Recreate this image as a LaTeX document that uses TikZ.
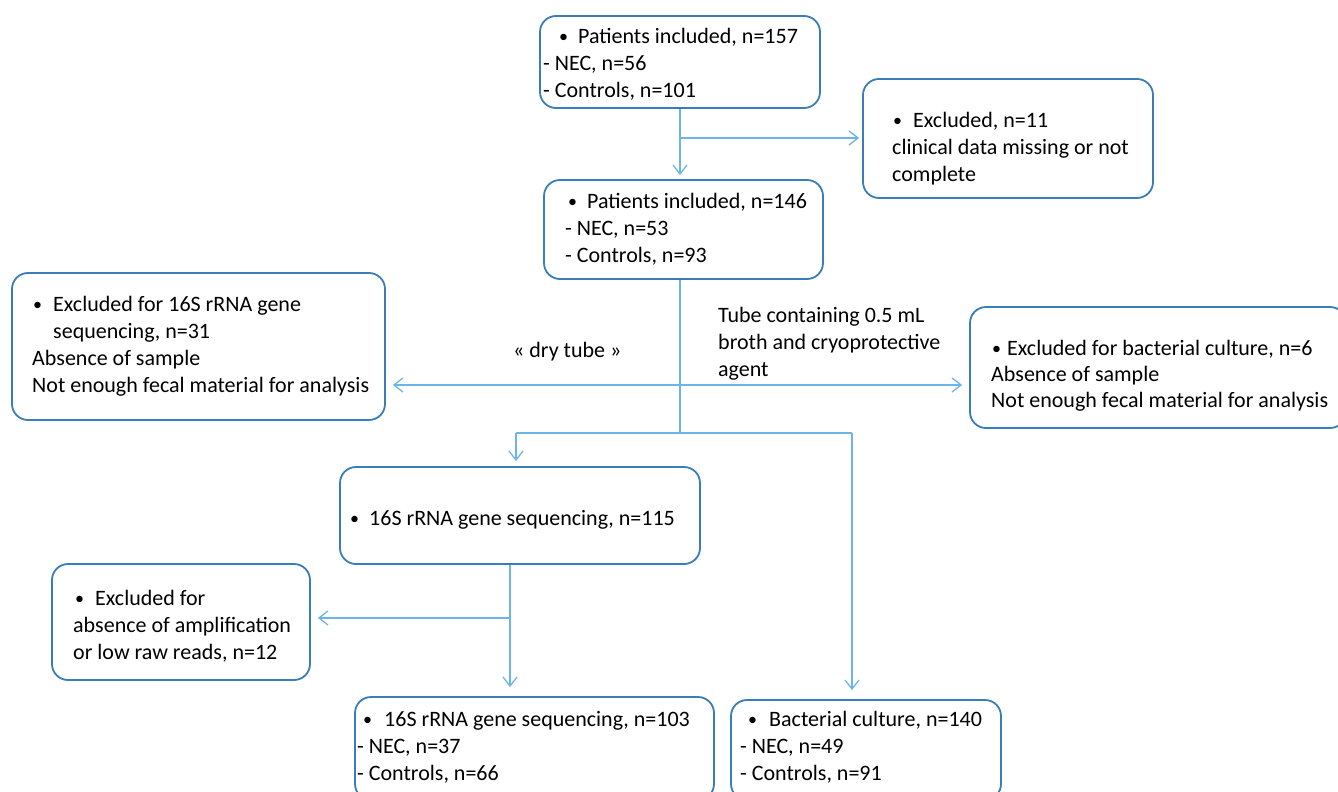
\documentclass[tikz,border=0pt]{standalone}
\usepackage{fontspec}
\setmainfont{Carlito}
\usetikzlibrary{arrows.meta}
\definecolor{boxblue}{HTML}{3A7DB8}
\definecolor{arrowblue}{HTML}{6DB5E6}
\newcommand{\bl}[2]{\hspace*{#1pt}\makebox[#2pt][l]{\raisebox{0.5pt}{\fontsize{18}{18}\selectfont •}}}
\begin{document}
\begin{tikzpicture}[x=1pt,y=-1pt,
  box/.style={draw=boxblue, line width=1.8pt, rounded corners=16pt, inner sep=0pt, rectangle},
  txt/.style={anchor=north west, inner sep=0pt, align=left, font=\fontsize{22}{27}\selectfont},
  wire/.style={draw=arrowblue, line width=1.3pt},
  conn/.style={wire, -{Straight Barb[length=9pt,width=14pt]}}]
\useasboundingbox (0,0) rectangle (1338,792);
\fill[white] (0,0) rectangle (1338,792);
\clip (0,0) rectangle (1338,792);

% boxes
\node[box, minimum width=280pt, minimum height=92pt]  (A) at (680,62) {};
\node[box, minimum width=290pt, minimum height=119pt] (B) at (1008,138.5) {};
\node[box, minimum width=279pt, minimum height=99pt]  (C) at (683.5,229.5) {};
\node[box, minimum width=373pt, minimum height=147pt] (D) at (198.5,346.5) {};
\node[box, minimum width=376pt, minimum height=121pt] (E) at (1158,367.5) {};
\node[box, minimum width=360pt, minimum height=97pt]  (F) at (520,515.5) {};
\node[box, minimum width=258pt, minimum height=116pt] (G) at (181,622) {};
\node[box, minimum width=359pt, minimum height=103pt] (H) at (534.5,748.5) {};
\node[box, minimum width=270pt, minimum height=100pt] (I) at (866,750) {};

% texts
\node[txt] (tA) at (543,24.1) {\strut\bl{16}{19}Patients included, n=157\\- NEC, n=56\\- Controls, n=101};
\node[txt] (tB) at (892,108.1) {\strut\bl{1}{20}Excluded, n=11\\clinical data missing or not\\complete};
\node[txt] (tC) at (565,189.1) {\strut\bl{3}{19}Patients included, n=146\\- NEC, n=53\\- Controls, n=93};
\node[txt] (tD) at (32,292.1) {\strut\bl{1}{20}Excluded for 16S rRNA gene\\\hspace*{21pt}sequencing, n=31\\Absence of sample\\Not enough fecal material for analysis};
\node[txt, font=\fontsize{22}{26}\selectfont] (tE) at (991,336.8) {\strut\bl{1}{15}Excluded for bacterial culture, n=6\\Absence of sample\\Not enough fecal material for analysis};
\node[txt] (tF) at (350,506.1) {\strut\bl{0}{19}16S rRNA gene sequencing, n=115};
\node[txt] (tG) at (73,586.1) {\strut\bl{2}{20}Excluded for\\absence of amplification\\or low raw reads, n=12};
\node[txt] (tH) at (357,707.1) {\strut\bl{6}{21}16S rRNA gene sequencing, n=103\\- NEC, n=37\\- Controls, n=66};
\node[txt] (tI) at (740,707.1) {\strut\bl{8}{21}Bacterial culture, n=140\\- NEC, n=49\\- Controls, n=91};

% labels
\node[txt] (dry) at (513,338.1) {\strut« dry tube »};
\node[txt] (tube) at (718,303.1) {\strut Tube containing 0.5 mL\\broth and cryoprotective\\agent};

% junction coordinates
\coordinate (s1) at (680,138);
\coordinate (j1) at (680,385);
\coordinate (j2) at (680,433);
\coordinate (j3) at (516,433);
\coordinate (j4) at (852,433);
\coordinate (k1) at (510,618);

% connectors
\draw[conn, shorten >=4pt] (A.south) -- (A.south |- C.north);
\draw[conn, shorten >=3pt] (s1) -- (s1 -| B.west);
\draw[wire] (j2 |- C.south) -- (j2);
\draw[conn, shorten >=7pt] (j1) -- (j1 -| D.east);
\draw[conn, shorten >=7pt] (j1) -- (j1 -| E.west);
\draw[wire] (j3) -- (j4);
\draw[conn, shorten >=5pt] (j3) -- (j3 |- F.north);
\draw[conn, shorten >=9pt] (j4) -- (j4 |- I.north);
\draw[conn, shorten >=9pt] (k1 |- F.south) -- (k1 |- H.north);
\draw[conn, shorten >=7pt] (k1) -- (k1 -| G.east);
\end{tikzpicture}
\end{document}
